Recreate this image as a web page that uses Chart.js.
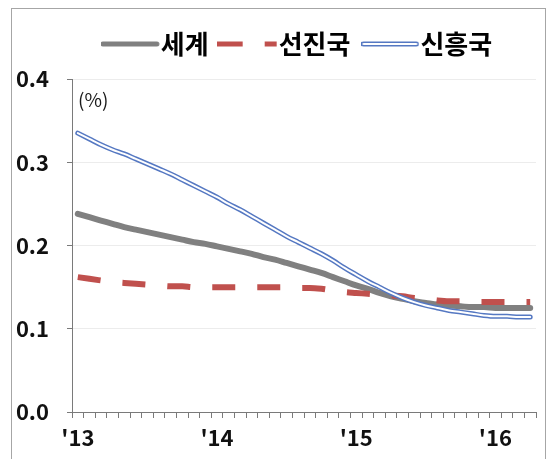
<!DOCTYPE html>
<html>
<head>
<meta charset="utf-8">
<script src="https://cdn.jsdelivr.net/npm/chart.js@4"></script>
<style>
  html, body { margin: 0; padding: 0; background: #fff; }
  #wrap { position: relative; width: 553px; height: 459px; overflow: hidden; }
  #frame { position: absolute; left: 11px; top: 8px; width: 533px; height: 470px; border: 1px solid #a6a6a6; }
  canvas { position: absolute; left: 0; top: 0; }
</style>
</head>
<body>
<div id="wrap"><div id="frame"></div><canvas id="chart" width="553" height="459"></canvas></div>
<script>
// Monthly observations, Jan 2013 – Apr 2016
const months = [
  '2013.01','2013.02','2013.03','2013.04','2013.05','2013.06','2013.07','2013.08','2013.09','2013.10','2013.11','2013.12',
  '2014.01','2014.02','2014.03','2014.04','2014.05','2014.06','2014.07','2014.08','2014.09','2014.10','2014.11','2014.12',
  '2015.01','2015.02','2015.03','2015.04','2015.05','2015.06','2015.07','2015.08','2015.09','2015.10','2015.11','2015.12',
  '2016.01','2016.02','2016.03','2016.04'
];
const yearTickLabels = { '2013.01': "'13", '2014.01': "'14", '2015.01': "'15", '2016.01': "'16" };
const seriesNames = ['세계', '선진국', '신흥국'];

const world = [0.238,0.234,0.230,0.226,0.222,0.219,0.216,0.213,0.210,0.207,
               0.204,0.202,0.199,0.196,0.193,0.190,0.186,0.183,0.179,0.175,
               0.171,0.167,0.162,0.157,0.152,0.148,0.143,0.139,0.136,0.133,
               0.131,0.129,0.128,0.127,0.126,0.126,0.125,0.125,0.125,0.125];
const advanced = [0.162,0.160,0.158,0.156,0.155,0.154,0.153,0.152,0.151,0.151,
                  0.150,0.150,0.150,0.150,0.150,0.150,0.150,0.150,0.150,0.149,
                  0.149,0.148,0.146,0.144,0.143,0.142,0.141,0.140,0.139,0.137,
                  0.136,0.134,0.133,0.133,0.132,0.132,0.132,0.132,0.132,0.132];
const emerging = [0.335,0.328,0.321,0.315,0.310,0.304,0.298,0.292,0.286,0.279,
                  0.272,0.265,0.258,0.250,0.243,0.235,0.227,0.219,0.211,0.204,
                  0.197,0.190,0.182,0.173,0.165,0.157,0.150,0.143,0.137,0.132,
                  0.128,0.125,0.122,0.120,0.118,0.116,0.115,0.115,0.114,0.114];

const yMin = 0, yMax = 0.4, yStep = 0.1;

const FONT = '"Noto Sans CJK KR", "Noto Sans", sans-serif';
const GRAY = '#808080', RED = '#c0504d', BLUE = '#5578c2';
const LEG_FS = 26, LEG_BOX = 34, LEG_PAD = 23;

// Legend swatches: drawn into small canvases, placed just before each label
function legendSymbol(len, draw) {
  const end = LEG_BOX + LEG_FS / 2 - 2, start = end - len;
  const half = Math.max(LEG_BOX / 2 - start, end - LEG_BOX / 2);
  const c = document.createElement('canvas');
  c.width = Math.ceil(half * 2); c.height = 12;
  const g = c.getContext('2d');
  const x0 = start - (LEG_BOX / 2 - half);
  draw(g, x0, x0 + len, 6);
  return c;
}
const symWorld = legendSymbol(58, (g, a, b, y) => {
  g.strokeStyle = GRAY; g.lineWidth = 5; g.lineCap = 'round';
  g.beginPath(); g.moveTo(a + 2, y); g.lineTo(b - 2, y); g.stroke();
});
const symAdv = legendSymbol(60, (g, a, b, y) => {
  g.strokeStyle = RED; g.lineWidth = 5; g.setLineDash([26, 22]);
  g.beginPath(); g.moveTo(a, y); g.lineTo(b, y); g.stroke();
});
const symEm = legendSymbol(57, (g, a, b, y) => {
  g.lineCap = 'round';
  g.strokeStyle = BLUE; g.lineWidth = 5;
  g.beginPath(); g.moveTo(a + 2, y); g.lineTo(b - 2, y); g.stroke();
  g.strokeStyle = '#fff'; g.lineWidth = 2;
  g.beginPath(); g.moveTo(a + 2, y); g.lineTo(b - 2, y); g.stroke();
});
const legendSymbols = [symWorld, symAdv, symEm];

// Legend row: extra space below it, and centred over the plot rather than the canvas
const legendPlacement = {
  id: 'legendPlacement',
  afterInit(chart) {
    const lg = chart.legend;
    const fit = lg.fit;
    lg.fit = function () { fit.call(this); this.height += 12; };
  },
  afterLayout(chart) {
    chart.legend.left += 70;
  }
};

// Unit note in the upper-left corner of the plot
const unitNote = {
  id: 'unitNote',
  afterDraw(chart) {
    const { ctx, chartArea } = chart;
    ctx.save();
    ctx.font = '19px ' + FONT;
    ctx.fillStyle = '#1a1a1a';
    ctx.textAlign = 'left';
    ctx.textBaseline = 'middle';
    ctx.fillText('(%)', chartArea.left + 6, chartArea.top + 21);
    ctx.restore();
  }
};

const lineBase = { pointRadius: 0, pointHoverRadius: 0, fill: false, cubicInterpolationMode: 'monotone' };

new Chart(document.getElementById('chart'), {
  type: 'line',
  data: {
    labels: months,
    datasets: [
      Object.assign({ label: seriesNames[0], data: world, borderColor: GRAY, borderWidth: 6, borderCapStyle: 'round', order: 3 }, lineBase),
      Object.assign({ label: seriesNames[1], data: advanced, borderColor: RED, borderWidth: 6, borderDash: [23, 22], order: 2 }, lineBase),
      Object.assign({ label: seriesNames[2], data: emerging, borderColor: BLUE, borderWidth: 5, borderCapStyle: 'round', order: 1 }, lineBase),
      Object.assign({ label: seriesNames[2] + '-inner', data: emerging, borderColor: '#ffffff', borderWidth: 2, borderCapStyle: 'round', order: 0 }, lineBase)
    ]
  },
  options: {
    responsive: false,
    animation: false,
    devicePixelRatio: 1,
    layout: { padding: { top: 8, right: 17, bottom: 0, left: 0 } },
    plugins: {
      tooltip: { enabled: false },
      legend: {
        position: 'top',
        labels: {
          usePointStyle: true,
          pointStyleWidth: LEG_BOX,
          padding: LEG_PAD,
          color: '#1a1a1a',
          font: { family: FONT, size: LEG_FS, weight: 'bold' },
          generateLabels: () => seriesNames.map((name, i) => ({
            text: name,
            pointStyle: legendSymbols[i],
            fillStyle: 'rgba(0,0,0,0)',
            strokeStyle: 'rgba(0,0,0,0)',
            lineWidth: 0,
            hidden: false,
            datasetIndex: i
          }))
        }
      }
    },
    scales: {
      x: {
        type: 'category',
        offset: true,
        afterFit(scale) { scale.height = 47; },
        border: { display: true, color: '#7a7a7a', width: 1 },
        grid: { display: true, offset: true, drawOnChartArea: false, drawTicks: true, tickLength: 6, tickColor: '#7a7a7a' },
        ticks: {
          autoSkip: false, maxRotation: 0, minRotation: 0, padding: 6,
          color: '#111',
          font: { family: FONT, size: 22, weight: 'bold' },
          callback: (v, i) => yearTickLabels[months[i]] || ''
        }
      },
      y: {
        min: yMin, max: yMax,
        afterFit(scale) { scale.width = 72; },
        border: { display: true, color: '#7a7a7a', width: 1 },
        grid: {
          color: (c) => (c.tick && c.tick.value === 0) ? 'rgba(0,0,0,0)' : '#ececec',
          tickColor: '#7a7a7a', tickLength: 5, lineWidth: 1
        },
        ticks: {
          stepSize: yStep, padding: 18,
          color: '#111',
          font: { family: FONT, size: 22, weight: 'bold' },
          callback: (v) => Number(v).toFixed(1)
        }
      }
    }
  },
  plugins: [legendPlacement, unitNote]
});
</script>
</body>
</html>
